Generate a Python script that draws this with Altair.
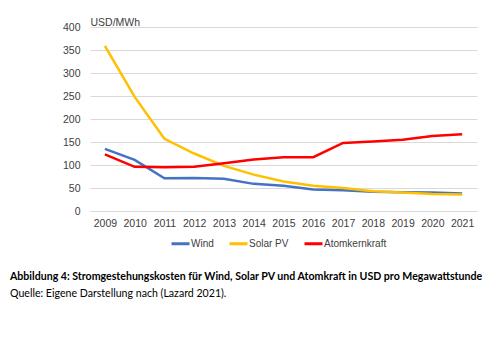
import altair as alt
import pandas as pd

years = [2009, 2010, 2011, 2012, 2013, 2014, 2015, 2016, 2017, 2018, 2019, 2020, 2021]
wind = [135, 111, 71, 72, 70, 59, 55, 47, 45, 42, 41, 40, 38]
solar = [359, 248, 157, 125, 98, 79, 64, 55, 50, 43, 40, 37, 36]
atom = [123, 96, 95, 96, 104, 112, 117, 117, 148, 151, 155, 163, 167]
series = ["Wind", "Solar PV", "Atomkernkraft"]
colors = ["#4472C4", "#FFC000", "#FF0000"]
caption_lines = [
    "Abbildung 4: Stromgestehungskosten für Wind, Solar PV und Atomkraft in USD pro Megawattstunde",
    "Quelle: Eigene Darstellung nach (Lazard 2021).",
]

rows = []
for name, vals in zip(series, [wind, solar, atom]):
    for y, v in zip(years, vals):
        rows.append({"Jahr": str(y), "Wert": v, "Serie": name})
df = pd.DataFrame(rows)

AX_FONT = "Liberation Sans"
lines = alt.Chart(df).mark_line(strokeWidth=2.5).encode(
    x=alt.X("Jahr:O", scale=alt.Scale(paddingOuter=0.5, paddingInner=0),
            axis=alt.Axis(title=None, labelAngle=0, domain=False, ticks=False,
                          labelPadding=7, labelFontSize=10.5, labelColor="#404040",
                          labelFont=AX_FONT)),
    y=alt.Y("Wert:Q", scale=alt.Scale(domain=[0, 400]),
            axis=alt.Axis(values=[0, 50, 100, 150, 200, 250, 300, 350, 400],
                          title="USD/MWh", titleAngle=0, titleAlign="left",
                          titleX=0, titleY=-5, titleBaseline="middle",
                          titleFontWeight="normal", titleFontSize=10.5,
                          titleColor="#404040", titleFont=AX_FONT,
                          domain=False, ticks=False, labelPadding=10,
                          labelFontSize=10.5, labelColor="#404040",
                          labelFont=AX_FONT,
                          gridColor="#d9d9d9", gridWidth=1)),
    color=alt.Color("Serie:N", sort=series,
                    scale=alt.Scale(domain=series, range=colors),
                    legend=alt.Legend(title=None, orient="none", direction="horizontal",
                                      legendX=80, legendY=206, symbolType="stroke",
                                      symbolSize=324, symbolStrokeWidth=3,
                                      labelFontSize=10, labelColor="#404040",
                                      labelFont=AX_FONT, labelOffset=0,
                                      columnPadding=9)),
)

cap = pd.DataFrame({"t": caption_lines, "i": [0, 1]})
cap1 = alt.Chart(cap).transform_filter("datum.i == 0").mark_text(
    align="left", baseline="middle", fontWeight="bold", fontSize=10.6,
    font="Lato", color="#000000"
).encode(text="t:N", x=alt.value(-80), y=alt.value(250))
cap2 = alt.Chart(cap).transform_filter("datum.i == 1").mark_text(
    align="left", baseline="middle", fontSize=10.6,
    font="Lato", color="#000000"
).encode(text="t:N", x=alt.value(-80), y=alt.value(267))

chart = alt.layer(lines, cap1, cap2).properties(
    width=387, height=184,
    autosize=alt.AutoSizeParams(type="none"),
    padding={"left": 90, "top": 27, "right": 23, "bottom": 142},
    background="white",
).configure_view(stroke=None)

chart.save("out.html", embed_options={"renderer": "svg", "actions": False})
